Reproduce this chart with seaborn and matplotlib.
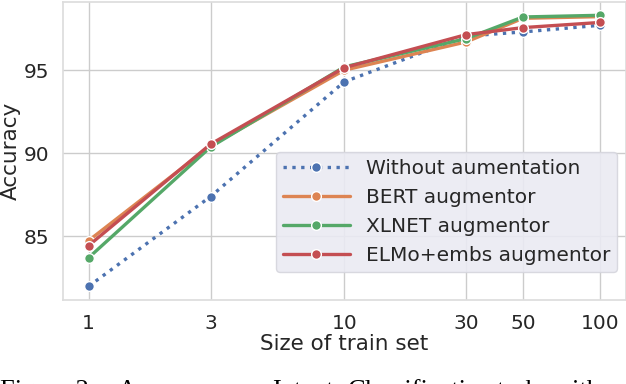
import matplotlib
matplotlib.use("Agg")
import matplotlib.pyplot as plt
import seaborn as sns

sizes = [1, 3, 10, 30, 50, 100]
without_aug = [82.0, 87.4, 94.3, 97.05, 97.3, 97.7]
bert_aug = [84.75, 90.45, 95.0, 96.7, 98.12, 98.22]
xlnet_aug = [83.72, 90.38, 95.2, 96.9, 98.2, 98.3]
elmo_aug = [84.45, 90.55, 95.15, 97.14, 97.56, 97.87]
labels = ["Without aumentation", "BERT augmentor", "XLNET augmentor", "ELMo+embs augmentor"]
xtick_labels = ["1", "3", "10", "30", "50", "100"]
ytick_vals = [85, 90, 95]
caption_words = ["Figure 2:", "Accuracy", "on", "Intent", "Classification", "task", "with"]
caption_x_px = [0, 118, 232, 272, 348, 497, 554]

sns.set_theme(style="whitegrid")
plt.rcParams['font.family'] = ['DejaVu Sans']

fig = plt.figure(figsize=(6.26, 3.84), dpi=100)
ax = fig.add_axes([63/626, 84/384, (625.5-63)/626, 298/384])

pal = sns.color_palette("deep")
series = [without_aug, bert_aug, xlnet_aug, elmo_aug]
styles = [":", "-", "-", "-"]
for vals, lab, col, ls in zip(series, labels, pal[:4], styles):
    sns.lineplot(x=sizes, y=vals, ax=ax, label=lab, color=col, linestyle=ls,
                 linewidth=2.4, marker="o", markersize=7, markeredgecolor="white",
                 markeredgewidth=1.0)

ax.set_xscale("log")
ax.set_xticks(sizes)
ax.set_xticklabels(xtick_labels)
ax.minorticks_off()
ax.set_yticks(ytick_vals)
ax.set_xlim(10**-0.1, 10**2.1)
ax.set_ylim(81.18, 99.1)
ax.tick_params(axis="both", labelsize=14.5, colors="#262626", pad=4)
ax.set_xlabel("Size of train set", fontsize=15.5, color="#262626", labelpad=1)
ax.set_ylabel("Accuracy", fontsize=15.5, color="#262626", labelpad=2)
for s in ax.spines.values():
    s.set_color("#dddddd")

leg = ax.legend(loc="lower right", bbox_to_anchor=(0.985, 0.094), borderaxespad=0,
                fontsize=14.5, handlelength=3.3, frameon=True, facecolor="#eaeaf2",
                edgecolor="#d5d5dd", framealpha=0.9, borderpad=0.35,
                labelspacing=0.5, handletextpad=0.8)
for t in leg.get_texts():
    t.set_color("#262626")

for w, xp in zip(caption_words, caption_x_px):
    fig.text(xp / 626, -13 / 384, w, fontsize=19, family="Liberation Serif",
             ha="left", va="baseline", color="black")

fig.savefig("out.png", dpi=100)
